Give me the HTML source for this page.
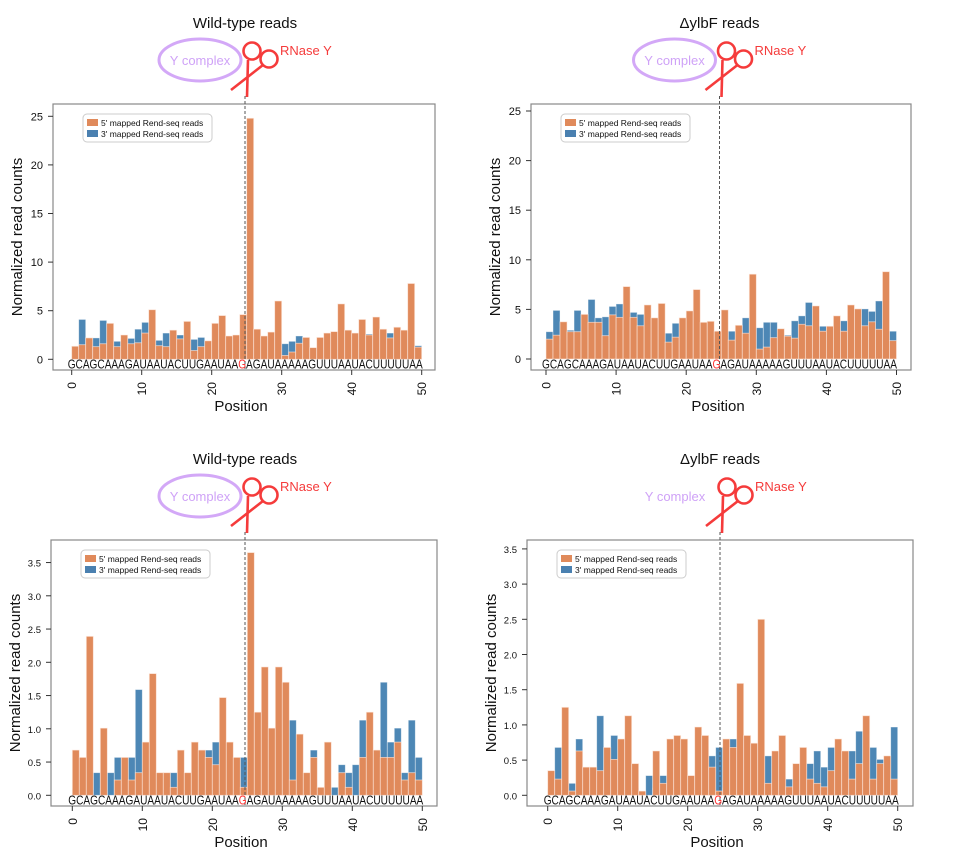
<!DOCTYPE html>
<html><head><meta charset="utf-8">
<style>
body{margin:0;background:#fff;}
svg{display:block;font-family:"Liberation Sans",sans-serif;}
</style></head>
<body>
<svg id="chart" width="956" height="866" viewBox="0 0 956 866" xmlns="http://www.w3.org/2000/svg"></svg>
<script>
const positions = Array.from({length:50},(_,i)=>i);
const xTickLabels = ["0","10","20","30","40","50"];
const seqLabel = "GCAGCAAAGAUAAUACUUGAAUAAGAGAUAAAAAGUUUAAUACUUUUUAA";
const yTicksTop = [0,5,10,15,20,25];
const yTicksBottom = [0,0.5,1.0,1.5,2.0,2.5,3.0,3.5];

const wtTop5 = [1.34,1.5,2.2,1.3,1.6,3.7,1.3,2.5,1.6,1.7,2.7,5.1,1.4,1.3,3.0,2.1,3.9,0.9,1.3,1.9,3.7,4.5,2.4,2.5,4.6,24.8,3.1,2.4,2.8,6.0,0.4,0.75,1.65,2.25,1.2,2.25,2.7,2.85,5.7,3.0,2.7,4.1,2.5,4.35,3.1,2.2,3.3,3.0,7.8,1.25];
const wtTop3 = [1.34,4.1,2.2,2.2,4.0,1.5,1.85,1.2,2.15,3.1,3.8,1.0,1.95,2.7,1.0,2.5,1.0,2.05,2.25,1.0,1.0,1.0,1.0,1.0,1.0,1.0,1.0,1.0,1.0,1.0,1.6,1.85,2.4,1.0,1.0,1.0,1.0,1.0,1.0,1.0,1.0,1.0,2.6,1.0,1.0,2.7,1.0,1.0,1.0,1.4];
const koTop5 = [2.0,2.4,3.75,2.75,2.75,4.5,3.7,3.7,2.35,4.45,4.2,7.3,4.2,3.35,5.45,4.15,5.6,1.7,2.2,4.15,4.85,7.0,3.7,3.8,2.8,4.95,1.9,3.4,2.6,8.55,1.0,1.2,2.15,3.05,2.3,2.1,3.5,3.35,5.35,2.8,3.3,4.35,2.8,5.45,5.05,3.35,3.75,3.0,8.8,1.85];
const koTop3 = [2.75,4.9,2.0,2.9,4.9,2.0,6.0,4.15,4.25,5.3,5.55,2.0,4.7,4.5,2.0,2.0,2.0,2.6,3.6,2.0,2.0,2.0,2.0,2.0,2.0,2.0,2.8,2.0,4.15,2.0,3.15,3.7,3.7,2.0,2.4,3.85,4.35,5.7,2.0,3.3,3.3,2.0,3.85,2.0,5.05,5.05,4.8,5.85,2.0,2.8];
const wtBot5 = [0.68,0.57,2.39,0,1.01,0,0.23,0.57,0.23,0.34,0.8,1.83,0.34,0.34,0.12,0.68,0.34,0.8,0.68,0.57,0.46,1.47,0.8,0.57,0.12,3.65,1.25,1.93,1.01,1.93,1.7,0.23,0.92,0.34,0.57,0.12,0.8,0,0.34,0.12,0,0.57,1.25,0.68,0.57,0.57,0.8,0.23,0.34,0.23];
const wtBot3 = [0.1,0.1,0.1,0.34,0.1,0.34,0.57,0.1,0.57,1.59,0.1,0.1,0.1,0.1,0.34,0.1,0.1,0.1,0.1,0.68,0.8,0.1,0.1,0.1,0.57,0.1,0.1,0.1,0.1,0.1,0.1,1.13,0.1,0.1,0.68,0.1,0.1,0.12,0.46,0.34,0.46,1.13,0.1,0.1,1.7,0.8,1.01,0.34,1.13,0.57];
const koBot5 = [0.35,0.23,1.25,0.06,0.63,0.4,0.4,0.35,0.68,0.51,0.8,1.13,0.45,0.06,0,0.63,0.17,0.8,0.85,0.8,0.28,0.97,0.85,0.4,0.06,0.8,0.68,1.59,0.85,0.74,2.5,0.17,0.63,0.85,0.12,0.45,0.68,0.23,0.17,0.12,0.35,0.8,0.63,0.23,0.45,1.13,0.23,0.45,0.56,0.23];
const koBot3 = [0.1,0.68,0.1,0.17,0.8,0.1,0.1,1.13,0.1,0.85,0.1,0.1,0.1,0.05,0.28,0.1,0.28,0.1,0.1,0.1,0.1,0.1,0.1,0.56,0.68,0.1,0.8,0.1,0.1,0.1,0.1,0.56,0.1,0.1,0.23,0.1,0.1,0.45,0.63,0.4,0.68,0.1,0.1,0.63,0.91,0.1,0.68,0.51,0.1,0.97];

const NS='http://www.w3.org/2000/svg';
const svg=document.getElementById('chart');
function mk(tag,attrs,parent,text){
  const e=document.createElementNS(NS,tag);
  for(const k in attrs)e.setAttribute(k,attrs[k]);
  if(text!==undefined)e.textContent=text;
  (parent||svg).appendChild(e);return e;
}

const panels=[
 {id:'wt-top',title:'Wild-type reads',frame:[53,104,435,370],x0:71.7,xs:7,y0:359.3,ys:9.72,ticks:yTicksTop,dec:0,o:wtTop5,b:wtTop3,ellipse:true,cx:245,ty:0},
 {id:'ylbf-top',title:'\u0394ylbF reads',frame:[531,104,911,370],x0:546,xs:7.01,y0:359,ys:9.92,ticks:yTicksTop,dec:0,o:koTop5,b:koTop3,ellipse:true,cx:719.5,ty:0},
 {id:'wt-bottom',title:'Wild-type reads',frame:[51,540,437,806],x0:72.3,xs:7,y0:795.3,ys:66.5,ticks:yTicksBottom,dec:1,o:wtBot5,b:wtBot3,ellipse:true,cx:245,ty:436},
 {id:'ylbf-bottom',title:'\u0394ylbF reads',frame:[527,540,913,806],x0:547.7,xs:7,y0:795.3,ys:70.4,ticks:yTicksBottom,dec:1,o:koBot5,b:koBot3,ellipse:false,cx:720,ty:436}
];

panels.forEach(p=>{
  const g=mk('g',{});
  
  
  const X=v=>p.x0+v*p.xs, Y=v=>p.y0-v*p.ys;
  const [fl,ft,fr,fb]=p.frame;
  const t=mk('text',{x:p.cx,y:28+p.ty,'text-anchor':'middle','font-size':15,fill:'#111'},g,p.title);
  
  
  const ecx=p.cx-45, ecy=60+p.ty;
  if(p.ellipse){
    const el=mk('ellipse',{cx:ecx,cy:ecy,rx:41,ry:21,fill:'none',stroke:'#d3a8f7','stroke-width':3},g);
    
    
  }
  const yc=mk('text',{x:ecx,y:ecy+5,'text-anchor':'middle','font-size':13,fill:'#cfa2f7'},g,'Y complex');
  
  
  const sc=mk('g',{stroke:'#f53b3b','stroke-width':2.6,fill:'none'},g);
  
  
  const d=p.cx-245, dy=p.ty;
  mk('circle',{cx:252+d,cy:51+dy,r:8.5},sc);
  mk('circle',{cx:269+d,cy:59+dy,r:8.5},sc);
  mk('line',{x1:248+d,y1:60+dy,x2:247+d,y2:97+dy},sc);
  mk('line',{x1:263+d,y1:65+dy,x2:231+d,y2:90+dy},sc);
  const rn=mk('text',{x:280+d,y:55+dy,'font-size':13,fill:'#f53b3b'},g,'RNase Y');
  
  
  const fr_=mk('rect',{x:fl,y:ft,width:fr-fl,height:fb-ft,fill:'#fff',stroke:'#888','stroke-width':1.2},g);
  
  
  positions.forEach(i=>{
    const bv=p.b[i];
    const rb=mk('rect',{x:X(i),y:Y(bv),width:p.xs,height:Math.max(0,Y(0)-Y(bv)),fill:'#4d87b5',stroke:'rgba(255,255,255,0.5)','stroke-width':0.8},g);
    
    
  });
  positions.forEach(i=>{
    const ov=p.o[i];
    const ro=mk('rect',{x:X(i),y:Y(ov),width:p.xs,height:Math.max(0,Y(0)-Y(ov)),fill:'#e08a5b',stroke:'rgba(255,235,225,0.7)','stroke-width':0.8},g);
    
    
  });
  const dl=mk('line',{x1:p.cx,y1:p.ty+96,x2:p.cx,y2:fb,stroke:'#555','stroke-width':1,'stroke-dasharray':'3,2'},g);
  
  
  const sq=mk('text',{x:X(0)-4,y:fb-1.5,'font-size':12.5,fill:'#111',textLength:355,lengthAdjust:'spacingAndGlyphs'},g);
  
  
  mk('tspan',{},sq,seqLabel.slice(0,24));
  mk('tspan',{fill:'#f33'},sq,seqLabel[24]);
  mk('tspan',{},sq,seqLabel.slice(25));
  p.ticks.forEach(v=>{
    mk('line',{x1:fl-5,y1:Y(v),x2:fl,y2:Y(v),stroke:'#333','stroke-width':1},g);
    const tl=mk('text',{x:fl-10,y:Y(v)+4,'text-anchor':'end','font-size':p.dec?9.5:11,fill:'#111'},g,v.toFixed(p.dec));
    
    
  });
  xTickLabels.forEach(s=>{
    const v=+s;
    mk('line',{x1:X(v),y1:fb,x2:X(v),y2:fb+5,stroke:'#333','stroke-width':1},g);
    const tl=mk('text',{x:X(v)+4.5,y:fb+12,'text-anchor':'end','font-size':12,fill:'#111',transform:`rotate(-90 ${X(v)+4.5} ${fb+12})`},g,s);
    
    
  });
  const xt=mk('text',{x:(fl+fr)/2-3,y:fb+41,'text-anchor':'middle','font-size':15,fill:'#111'},g,'Position');
  
  
  const yx=fl-31, yy=(ft+fb)/2;
  const ytl=mk('text',{x:yx,y:yy,'text-anchor':'middle','font-size':15,fill:'#111',transform:`rotate(-90 ${yx} ${yy})`},g,'Normalized read counts');
  
  
  const lg=mk('g',{},g);
  
  
  const lx=fl+30, ly=ft+10;
  mk('rect',{x:lx,y:ly,width:129,height:28,rx:4,fill:'rgba(255,255,255,0.85)',stroke:'#ccc'},lg);
  mk('rect',{x:lx+4,y:ly+5,width:11,height:7,fill:'#e08a5b'},lg);
  mk('rect',{x:lx+4,y:ly+16,width:11,height:7,fill:'#4a80b0'},lg);
  const l1=mk('text',{x:lx+18,y:ly+12,'font-size':8.5,fill:'#111'},lg,"5' mapped Rend-seq reads");
  
  
  const l2=mk('text',{x:lx+18,y:ly+23,'font-size':8.5,fill:'#111'},lg,"3' mapped Rend-seq reads");
  
  
});
</script>
</body></html>
